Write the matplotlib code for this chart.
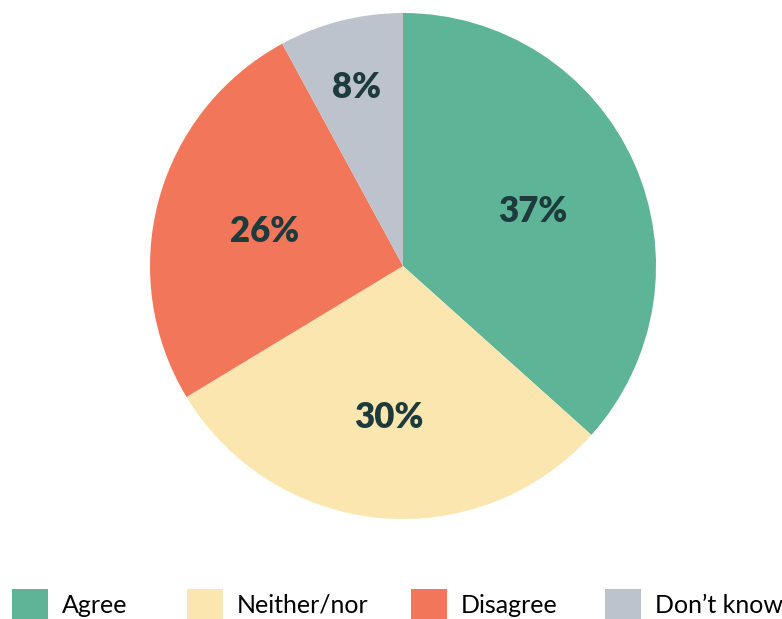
import numpy as np
import matplotlib.pyplot as plt

categories = ["Agree", "Neither/nor", "Disagree", "Don\u2019t know"]
shares = [37, 30, 26, 8]
colors = ["#5db496", "#fce6af", "#f2765a", "#bdc3cc"]
label_radius = [0.56, 0.59, 0.565, 0.74]
legend_x = [12, 187, 411, 605]  # left edge of each legend entry, px

fig = plt.figure(figsize=(7.82, 6.19), dpi=100)
# square axes holding the pie
ax = fig.add_axes([150 / 782, 100 / 619, 506 / 782, 506 / 619])
wedges, _ = ax.pie(shares, colors=colors, startangle=90, counterclock=False,
                   radius=1.0, wedgeprops=dict(linewidth=0))
ax.set_xlim(-1, 1)
ax.set_ylim(-1, 1)
ax.set_aspect("equal")
ax.axis("off")

for w, val, r in zip(wedges, shares, label_radius):
    mid = np.deg2rad((w.theta1 + w.theta2) / 2)
    ax.text(r * np.cos(mid), r * np.sin(mid), f"{val}%", ha="center",
            va="center_baseline", fontsize=25, fontweight="heavy",
            family="Lato", color="#1d3a3c")

# one legend per entry so the spacing can be set by hand
for w, cat, x in zip(wedges, categories, legend_x):
    fig.legend([w], [cat], loc="lower left", bbox_to_anchor=(x / 782, 0),
               frameon=False, prop=dict(family="Lato", size=18),
               handlelength=1.44, handleheight=1.44, handletextpad=0.56,
               borderpad=0, borderaxespad=0)

fig.savefig("out.png", dpi=100)
